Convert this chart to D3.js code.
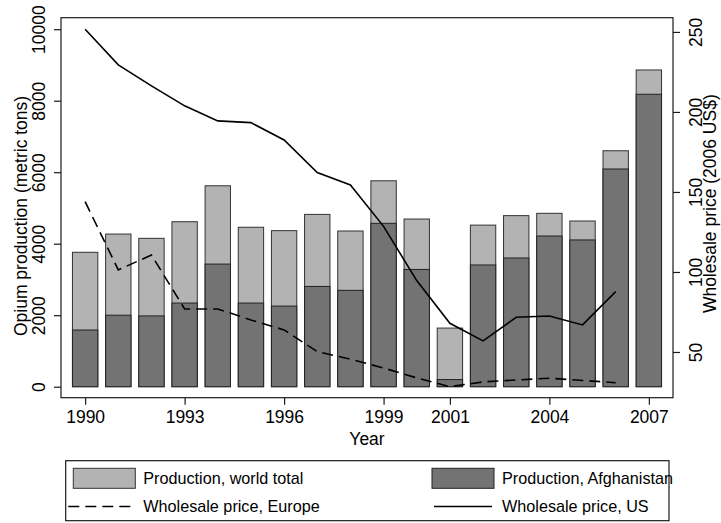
<!DOCTYPE html>
<html>
<head>
<meta charset="utf-8">
<script src="https://cdn.jsdelivr.net/npm/d3@7"></script>
<style>
  html, body { margin: 0; padding: 0; background: #fff; }
  svg { display: block; font-family: "Liberation Sans", Arial, Helvetica, sans-serif; }
</style>
</head>
<body>
<svg id="chart" width="721" height="523"></svg>
<script>
// Opium production (metric tons) and wholesale heroin prices (2006 US$)
const years = [1990, 1991, 1992, 1993, 1994, 1995, 1996, 1997, 1998, 1999,
               2000, 2001, 2002, 2003, 2004, 2005, 2006, 2007];
const worldTotal = [3760, 4270, 4150, 4615, 5620, 4460, 4365, 4820, 4355, 5760,
                    4690, 1640, 4520, 4785, 4850, 4635, 6600, 8860];
const afghanistan = [1585, 2000, 1980, 2340, 3430, 2340, 2255, 2805, 2695, 4570,
                     3280, 200, 3405, 3600, 4215, 4105, 6090, 8180];
const priceYears = [1990, 1991, 1992, 1993, 1994, 1995, 1996, 1997, 1998, 1999,
                    2000, 2001, 2002, 2003, 2004, 2005, 2006];
const priceEurope = [143.9, 101.3, 110.6, 76.9, 76.9, 70.0, 63.8, 50.2, 45.5, 40.0,
                     33.8, 28.3, 31.3, 32.5, 33.6, 32.2, 30.8];
const priceUS = [251.7, 229.4, 216.3, 203.8, 194.4, 193.3, 182.5, 162.1, 154.4, 128.5,
                 94.6, 67.9, 56.9, 71.7, 72.5, 66.9, 87.7];
const xTicks = [1990, 1993, 1996, 1999, 2001, 2004, 2007];
const leftTicks = [0, 2000, 4000, 6000, 8000, 10000];
const rightTicks = [50, 100, 150, 200, 250];

const svg = d3.select("#chart");
const FONT = 17.5;
const LEGEND_FONT = 16.2;
const plot = { left: 61, right: 673, top: 17.7, bottom: 397.7 };
const ink = "#1a1a1a";

const x = d3.scaleLinear().domain([1989.272, 2007.728]).range([plot.left, plot.right]);
const yL = d3.scaleLinear().domain([0, 10000]).range([386.7, 29.2]);
const allPrices = priceEurope.concat(priceUS);
const yR = d3.scaleLinear().domain(d3.extent(allPrices)).range(yL.range());
const barW = x(1990.765) - x(1990);

// bars: world total behind, Afghanistan in front
const bars = svg.append("g");
bars.selectAll("rect.world").data(years).join("rect")
  .attr("class", "world")
  .attr("x", (d) => x(d) - barW / 2)
  .attr("width", barW)
  .attr("y", (d, i) => yL(worldTotal[i]))
  .attr("height", (d, i) => yL(0) - yL(worldTotal[i]))
  .attr("fill", "#b3b3b3").attr("stroke", "#333").attr("stroke-width", 1);
bars.selectAll("rect.afg").data(years).join("rect")
  .attr("class", "afg")
  .attr("x", (d) => x(d) - barW / 2)
  .attr("width", barW)
  .attr("y", (d, i) => yL(afghanistan[i]))
  .attr("height", (d, i) => yL(0) - yL(afghanistan[i]))
  .attr("fill", "#737373").attr("stroke", "#222").attr("stroke-width", 1);

// price lines on the second axis
const line = d3.line().x((d) => x(d[0])).y((d) => yR(d[1]));
svg.append("path")
  .attr("d", line(priceYears.map((yr, i) => [yr, priceEurope[i]])))
  .attr("fill", "none").attr("stroke", "#000").attr("stroke-width", 1.6)
  .attr("stroke-dasharray", "11,6");
svg.append("path")
  .attr("d", line(priceYears.map((yr, i) => [yr, priceUS[i]])))
  .attr("fill", "none").attr("stroke", "#000").attr("stroke-width", 1.6);

// plot frame
svg.append("rect")
  .attr("x", plot.left).attr("y", plot.top)
  .attr("width", plot.right - plot.left).attr("height", plot.bottom - plot.top)
  .attr("fill", "none").attr("stroke", ink).attr("stroke-width", 1.2);

// x axis
const gx = svg.append("g").attr("transform", `translate(0,${plot.bottom})`)
  .call(d3.axisBottom(x).tickValues(xTicks).tickFormat(d3.format("d")).tickSize(7).tickPadding(6));
gx.select(".domain").remove();
gx.selectAll("line").attr("stroke", ink).attr("stroke-width", 1.2);
gx.selectAll("text").attr("font-size", FONT).attr("fill", "#000").attr("font-family", null);

svg.append("text").attr("x", (plot.left + plot.right) / 2).attr("y", 445)
  .attr("text-anchor", "middle").attr("font-size", FONT).text("Year");

// left axis
const gl = svg.append("g").attr("transform", `translate(${plot.left},0)`)
  .call(d3.axisLeft(yL).tickValues(leftTicks).tickFormat(d3.format("d")).tickSize(7));
gl.select(".domain").remove();
gl.selectAll("line").attr("stroke", ink).attr("stroke-width", 1.2);
gl.selectAll("text").remove();
gl.selectAll(".tick").append("text")
  .attr("transform", "translate(-16.5,0) rotate(-90)")
  .attr("text-anchor", "middle").attr("fill", "#000")
  .attr("font-size", FONT).attr("font-family", null)
  .text((d) => d3.format("d")(d));

svg.append("text")
  .attr("transform", `translate(26.5,${(yL(0) + yL(10000)) / 2 + 8}) rotate(-90)`)
  .attr("text-anchor", "middle").attr("font-size", FONT)
  .text("Opium production (metric tons)");

// right axis
const gr = svg.append("g").attr("transform", `translate(${plot.right},0)`)
  .call(d3.axisRight(yR).tickValues(rightTicks).tickFormat(d3.format("d")).tickSize(7));
gr.select(".domain").remove();
gr.selectAll("line").attr("stroke", ink).attr("stroke-width", 1.2);
gr.selectAll("text").remove();
gr.selectAll(".tick").append("text")
  .attr("transform", "translate(29,0) rotate(-90)")
  .attr("text-anchor", "middle").attr("fill", "#000")
  .attr("font-size", FONT).attr("font-family", null)
  .text((d) => d);

svg.append("text")
  .attr("transform", `translate(716,${(plot.top + plot.bottom) / 2 - 4}) rotate(-90)`)
  .attr("text-anchor", "middle").attr("font-size", FONT)
  .text("Wholesale price (2006 US$)");

// legend: two columns, area keys on the first row, line keys on the second
const lg = svg.append("g");
lg.append("rect").attr("x", 65.7).attr("y", 460.7).attr("width", 603.3).attr("height", 60)
  .attr("fill", "#fff").attr("stroke", ink).attr("stroke-width", 1.2);
const row1 = 478.3, row2 = 506.5;
const col1 = 73.3, col2 = 432, keyW = 62;
lg.append("rect").attr("x", col1).attr("y", row1 - 10).attr("width", keyW).attr("height", 20)
  .attr("fill", "#b3b3b3").attr("stroke", "#333");
lg.append("rect").attr("x", col2).attr("y", row1 - 10).attr("width", keyW).attr("height", 20)
  .attr("fill", "#737373").attr("stroke", "#222");
lg.append("line").attr("x1", col1 - 5).attr("x2", col1 + keyW).attr("y1", row2).attr("y2", row2)
  .attr("stroke", "#000").attr("stroke-width", 1.6).attr("stroke-dasharray", "11,6");
lg.append("line").attr("x1", col2 + 2).attr("x2", col2 + keyW - 2).attr("y1", row2).attr("y2", row2)
  .attr("stroke", "#000").attr("stroke-width", 1.6);
const legendText = [
  ["Production, world total", col1 + keyW + 8, row1],
  ["Production, Afghanistan", col2 + keyW + 8, row1],
  ["Wholesale price, Europe", col1 + keyW + 8, row2],
  ["Wholesale price, US", col2 + keyW + 8, row2]
];
lg.selectAll("text.lt").data(legendText).join("text")
  .attr("class", "lt")
  .attr("x", (d) => d[1]).attr("y", (d) => d[2])
  .attr("dy", "0.35em").attr("font-size", LEGEND_FONT)
  .text((d) => d[0]);
</script>
</body>
</html>
